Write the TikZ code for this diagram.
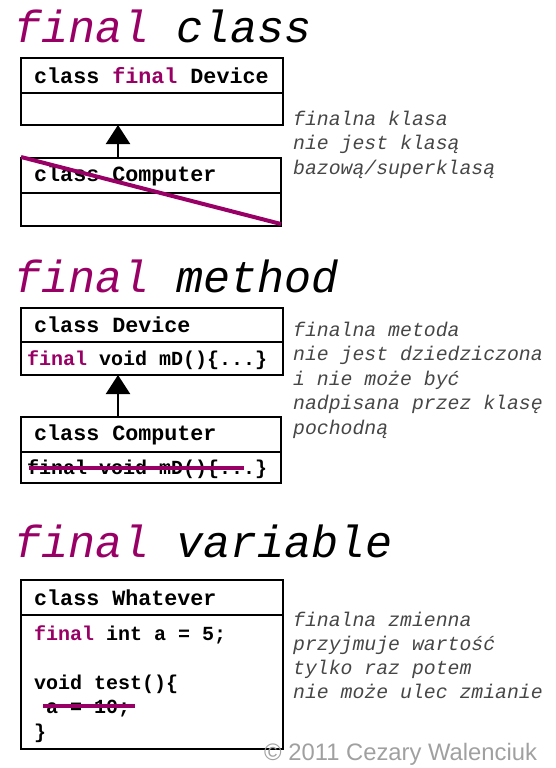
\documentclass[tikz,border=0pt]{standalone}
\usepackage{fontspec}
\setmainfont{Liberation Mono}
\newfontfamily\copyfont{Liberation Sans}
\usetikzlibrary{arrows.meta}
\definecolor{fin}{RGB}{153,0,102}
\definecolor{note}{RGB}{70,70,70}
\definecolor{copyc}{RGB}{160,160,160}
\tikzset{
  uml/.style={draw=black, line width=2.2pt, anchor=north west, inner sep=0pt, outer sep=0pt, minimum width=#1},
  hdr/.style={font=\bfseries\fontsize{21.7}{24}\selectfont, anchor=west, inner sep=0pt},
  body/.style={font=\bfseries\fontsize{20}{24}\selectfont, anchor=base west, inner sep=0pt},
  title/.style={font=\itshape\fontsize{45}{50}\selectfont, anchor=base west, inner sep=0pt},
  notetxt/.style={font=\itshape\fontsize{19.8}{24}\selectfont, text=note, anchor=base west, inner sep=0pt},
  strike/.style={draw=fin, line width=4pt},
  inherit/.style={draw=black, line width=2.2pt, -{Triangle[width=24pt,length=19pt]}},
}
\begin{document}
\begin{tikzpicture}[x=1pt,y=-1pt]
\useasboundingbox (0,0) rectangle (556,768);
% ---------- final class ----------
\node[title] (t1) at (14,43) {\textcolor{fin}{final} class};
\node[uml=262pt, minimum height=35pt] (devh) at (21,58) {};
\node[uml=262pt, minimum height=32pt] (devb) at (devh.south west) {};
\node[hdr] (devt) at ([xshift=13pt]devh.west) {class \textcolor{fin}{final} Device};
\node[uml=260pt, minimum height=35pt] (comph) at (21,158) {};
\node[uml=260pt, minimum height=33pt] (compb) at (comph.south west) {};
\node[hdr] (compt) at ([xshift=13pt]comph.west) {class Computer};
\coordinate (a1) at (118,158);
\draw[inherit] (a1) -- (a1 |- devb.south);
\draw[strike] ([yshift=1pt]comph.north west) -- ([yshift=2pt]compb.south east);
\node[notetxt] (n11) at (293,125) {finalna klasa};
\node[notetxt] (n12) at (293,149.5) {nie jest klasą};
\node[notetxt] (n13) at (293,174) {bazową/superklasą};
% ---------- final method ----------
\node[title] (t2) at (14,292) {\textcolor{fin}{final} method};
\node[uml=262pt, minimum height=34pt] (mdh) at (21,308) {};
\node[uml=262pt, minimum height=33pt] (mdb) at (mdh.south west) {};
\node[hdr] (mdt) at ([xshift=13pt]mdh.west) {class Device};
\node[body] (mdm) at (27,365) {\textcolor{fin}{final} void mD()\{...\}};
\node[uml=260pt, minimum height=35pt] (mch) at (21,417) {};
\node[uml=260pt, minimum height=31pt] (mcb) at (mch.south west) {};
\node[hdr] (mct) at ([xshift=13pt]mch.west) {class Computer};
\node[body] (mcm) at (27,474) {final void mD()\{...\}};
\coordinate (a2) at (118,417);
\draw[inherit] (a2) -- (a2 |- mdb.south);
\coordinate (s2a) at (29,468);
\coordinate (s2b) at (244,468);
\draw[strike] (s2a) -- (s2b);
\node[notetxt] (n21) at (293,336) {finalna metoda};
\node[notetxt] (n22) at (293,360.5) {nie jest dziedziczona};
\node[notetxt] (n23) at (293,385) {i nie może być};
\node[notetxt] (n24) at (293,409.5) {nadpisana przez klasę};
\node[notetxt] (n25) at (293,434) {pochodną};
% ---------- final variable ----------
\node[title] (t3) at (14,557) {\textcolor{fin}{final} variable};
\node[uml=262pt, minimum height=35pt] (vh) at (21,580) {};
\node[uml=262pt, minimum height=134pt] (vb) at (vh.south west) {};
\node[hdr] (vt) at ([xshift=13pt]vh.west) {class Whatever};
\node[body] (v1) at (34,640) {\textcolor{fin}{final} int a = 5;};
\node[body] (v2) at (34,689) {void test()\{};
\node[body] (v3) at (34,713.5) {\ a = 10;};
\node[body] (v4) at (34,738) {\}};
\coordinate (s3a) at (43,706);
\coordinate (s3b) at (135,706);
\draw[strike] (s3a) -- (s3b);
\node[notetxt] (n31) at (293,626) {finalna zmienna};
\node[notetxt] (n32) at (293,650) {przyjmuje wartość};
\node[notetxt] (n33) at (293,674) {tylko raz potem};
\node[notetxt] (n34) at (293,698) {nie może ulec zmianie};
% ---------- copyright ----------
\node[font=\copyfont\fontsize{23.8}{26}\selectfont, text=copyc, anchor=base west, inner sep=0pt] (cp) at (264,760) {© 2011 Cezary Walenciuk};
\end{tikzpicture}
\end{document}
